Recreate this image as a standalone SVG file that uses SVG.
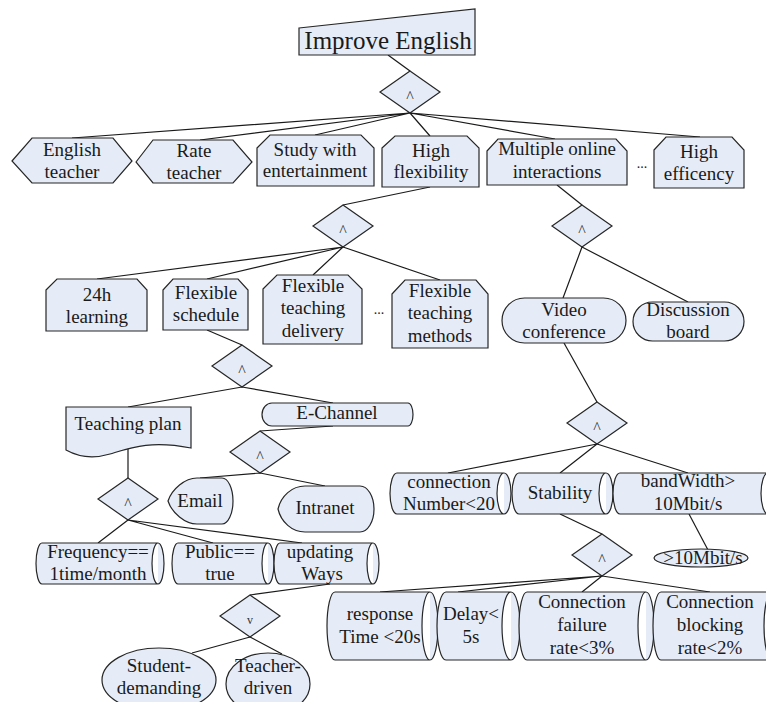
<svg xmlns="http://www.w3.org/2000/svg" width="766" height="702" viewBox="0 0 766 702">
<style>
.fnode{fill:#e5ecf7;stroke:#262626;stroke-width:1.2}
.fconn{fill:none;stroke:#1a1a1a;stroke-width:1.2}
</style>
<defs>
<path id="dia" d="M0,-21 L30,0 L0,21 L-30,0 Z"/>
</defs>
<rect width="766" height="702" fill="#fff"/>
<g id="connectors" class="fconn">
<path d="M388,55 L410,71"/>
<path d="M410,113 L72,138 M410,113 L200,140 M410,113 L315,135 M410,113 L430,136 M410,113 L555,139 M410,113 L700,137"/>
<path d="M430,187 L343,205"/>
<path d="M343,247 L97,279 M343,247 L207,279 M343,247 L313,275 M343,247 L440,280"/>
<path d="M557,185 L582,205"/>
<path d="M582,247 L563,298 M582,247 L688,302"/>
<path d="M564,343 L597,402"/>
<path d="M597,444 L448,473 M597,444 L560,473 M597,444 L688,473"/>
<path d="M689,514 L708,550"/>
<path d="M560,514 L602,534"/>
<path d="M602,576 L380,592 M602,576 L458,592 M602,576 L582,592 M602,576 L710,592"/>
<path d="M207,330 L242,345"/>
<path d="M242,387 L128,407 M242,387 L333,403"/>
<path d="M333,426 L260,431"/>
<path d="M260,473 L200,478 M260,473 L325,486"/>
<path d="M128,448 L128,478"/>
<path d="M128,520 L98,543 M128,520 L213,543 M128,520 L302,543"/>
<path d="M330,584 L250,595"/>
<path d="M250,637 L192,653 M250,637 L282,654"/>
</g>
<g id="improve-english"><path class="fnode" d="M299,28 L475,9 L475,55 L299,55 Z"/><text font-family="Liberation Serif" font-size="25" fill="#1a1a1a" text-anchor="middle" x="388" y="49">Improve English</text></g>
<g id="and1"><use href="#dia" class="fnode" x="410" y="92"/><text font-family="Liberation Serif" font-size="16" fill="#333" text-anchor="middle" x="410" y="102">^</text></g>
<g id="english-teacher"><polygon class="fnode" points="12,161 32,138 113,138 132,161 113,183 32,183"/><text font-family="Liberation Serif" font-size="19" fill="#1a1a1a" text-anchor="middle" x="72" y="156">English</text><text font-family="Liberation Serif" font-size="19" fill="#1a1a1a" text-anchor="middle" x="72" y="178">teacher</text></g>
<g id="rate-teacher"><polygon class="fnode" points="136,162 153,140 233,140 252,162 233,183 153,183"/><text font-family="Liberation Serif" font-size="19" fill="#1a1a1a" text-anchor="middle" x="194" y="157">Rate</text><text font-family="Liberation Serif" font-size="19" fill="#1a1a1a" text-anchor="middle" x="194" y="179">teacher</text></g>
<g id="study"><path class="fnode" d="M257,148 L270,135 L361,135 L374,148 L374,186 L257,186 Z"/><text font-family="Liberation Serif" font-size="19" fill="#1a1a1a" text-anchor="middle" x="315" y="156">Study with</text><text font-family="Liberation Serif" font-size="19" fill="#1a1a1a" text-anchor="middle" x="315" y="177">entertainment</text></g>
<g id="high-flexibility"><path class="fnode" d="M382,148 L395,136 L467,136 L479,148 L479,187 L382,187 Z"/><text font-family="Liberation Serif" font-size="19" fill="#1a1a1a" text-anchor="middle" x="431" y="157">High</text><text font-family="Liberation Serif" font-size="19" fill="#1a1a1a" text-anchor="middle" x="431" y="178">flexibility</text></g>
<g id="multiple"><path class="fnode" d="M487,151 L498,139 L616,139 L627,151 L627,185 L487,185 Z"/><text font-family="Liberation Serif" font-size="19" fill="#1a1a1a" text-anchor="middle" x="557" y="155">Multiple online</text><text font-family="Liberation Serif" font-size="19" fill="#1a1a1a" text-anchor="middle" x="557" y="178">interactions</text></g>
<text font-family="Liberation Serif" font-size="14" fill="#1a1a1a" text-anchor="middle" x="642" y="168">...</text>
<g id="high-efficency"><path class="fnode" d="M654,150 L666,137 L732,137 L744,150 L744,188 L654,188 Z"/><text font-family="Liberation Serif" font-size="19" fill="#1a1a1a" text-anchor="middle" x="699" y="158">High</text><text font-family="Liberation Serif" font-size="19" fill="#1a1a1a" text-anchor="middle" x="699" y="180">efficency</text></g>
<g id="and2"><use href="#dia" class="fnode" x="343" y="226"/><text font-family="Liberation Serif" font-size="16" fill="#333" text-anchor="middle" x="343" y="236">^</text></g>
<g id="and3"><use href="#dia" class="fnode" x="582" y="226"/><text font-family="Liberation Serif" font-size="16" fill="#333" text-anchor="middle" x="582" y="236">^</text></g>
<g id="learning24h"><path class="fnode" d="M46,290 L57,279 L137,279 L147,290 L147,331 L46,331 Z"/><text font-family="Liberation Serif" font-size="19" fill="#1a1a1a" text-anchor="middle" x="97" y="301">24h</text><text font-family="Liberation Serif" font-size="19" fill="#1a1a1a" text-anchor="middle" x="97" y="323">learning</text></g>
<g id="flexible-schedule"><path class="fnode" d="M163,290 L173,279 L238,279 L248,290 L248,330 L163,330 Z"/><text font-family="Liberation Serif" font-size="19" fill="#1a1a1a" text-anchor="middle" x="206" y="299">Flexible</text><text font-family="Liberation Serif" font-size="19" fill="#1a1a1a" text-anchor="middle" x="206" y="321">schedule</text></g>
<g id="flexible-delivery"><path class="fnode" d="M263,289 L277,275 L348,275 L362,289 L362,344 L263,344 Z"/><text font-family="Liberation Serif" font-size="19" fill="#1a1a1a" text-anchor="middle" x="313" y="292">Flexible</text><text font-family="Liberation Serif" font-size="19" fill="#1a1a1a" text-anchor="middle" x="313" y="314">teaching</text><text font-family="Liberation Serif" font-size="19" fill="#1a1a1a" text-anchor="middle" x="313" y="337">delivery</text></g>
<text font-family="Liberation Serif" font-size="14" fill="#1a1a1a" text-anchor="middle" x="379" y="314">...</text>
<g id="flexible-methods"><path class="fnode" d="M392,294 L405,280 L476,280 L488,294 L488,348 L392,348 Z"/><text font-family="Liberation Serif" font-size="19" fill="#1a1a1a" text-anchor="middle" x="440" y="297">Flexible</text><text font-family="Liberation Serif" font-size="19" fill="#1a1a1a" text-anchor="middle" x="440" y="319">teaching</text><text font-family="Liberation Serif" font-size="19" fill="#1a1a1a" text-anchor="middle" x="440" y="342">methods</text></g>
<g id="video-conference"><rect class="fnode" x="502" y="298" width="124" height="45" rx="22.5"/><text font-family="Liberation Serif" font-size="19" fill="#1a1a1a" text-anchor="middle" x="564" y="316">Video</text><text font-family="Liberation Serif" font-size="19" fill="#1a1a1a" text-anchor="middle" x="564" y="338">conference</text></g>
<g id="discussion-board"><rect class="fnode" x="633" y="302" width="111" height="39" rx="19.5"/><text font-family="Liberation Serif" font-size="19" fill="#1a1a1a" text-anchor="middle" x="688" y="316">Discussion</text><text font-family="Liberation Serif" font-size="19" fill="#1a1a1a" text-anchor="middle" x="688" y="338">board</text></g>
<g id="and4"><use href="#dia" class="fnode" x="597" y="423"/><text font-family="Liberation Serif" font-size="16" fill="#333" text-anchor="middle" x="597" y="433">^</text></g>
<g id="connection-number"><path class="fnode" d="M397,473 H504 A7,20.5 0 0 1 504,514 H397 A7,20.5 0 0 1 397,473 Z M504,473 A7,20.5 0 0 0 504,514"/><text font-family="Liberation Serif" font-size="19" fill="#1a1a1a" text-anchor="middle" x="449" y="488">connection</text><text font-family="Liberation Serif" font-size="19" fill="#1a1a1a" text-anchor="middle" x="449" y="510">Number&lt;20</text></g>
<g id="stability"><path class="fnode" d="M519,473 H606 A7,20.5 0 0 1 606,514 H519 A7,20.5 0 0 1 519,473 Z M606,473 A7,20.5 0 0 0 606,514"/><text font-family="Liberation Serif" font-size="19" fill="#1a1a1a" text-anchor="middle" x="560" y="499">Stability</text></g>
<g id="bandwidth"><path class="fnode" d="M620,473 H768 A7,20.5 0 0 1 768,514 H620 A7,20.5 0 0 1 620,473 Z M768,473 A7,20.5 0 0 0 768,514"/><text font-family="Liberation Serif" font-size="19" fill="#1a1a1a" text-anchor="middle" x="688" y="487">bandWidth&gt;</text><text font-family="Liberation Serif" font-size="19" fill="#1a1a1a" text-anchor="middle" x="688" y="510">10Mbit/s</text></g>
<g id="mbit"><ellipse class="fnode" cx="701" cy="558" rx="47" ry="9"/><text font-family="Liberation Serif" font-size="19" fill="#1a1a1a" text-anchor="middle" x="703" y="564">&gt;10Mbit/s</text></g>
<g id="and5"><use href="#dia" class="fnode" x="602" y="555"/><text font-family="Liberation Serif" font-size="16" fill="#333" text-anchor="middle" x="602" y="565">^</text></g>
<g id="response-time"><path class="fnode" d="M335,592 H430 A8,34 0 0 1 430,660 H335 A8,34 0 0 1 335,592 Z M430,592 A8,34 0 0 0 430,660"/><text font-family="Liberation Serif" font-size="19" fill="#1a1a1a" text-anchor="middle" x="380" y="620">response</text><text font-family="Liberation Serif" font-size="19" fill="#1a1a1a" text-anchor="middle" x="380" y="643">Time &lt;20s</text></g>
<g id="delay"><path class="fnode" d="M446,592 H511 A9,34 0 0 1 511,660 H446 A9,34 0 0 1 446,592 Z M511,592 A9,34 0 0 0 511,660"/><text font-family="Liberation Serif" font-size="19" fill="#1a1a1a" text-anchor="middle" x="471" y="620">Delay&lt;</text><text font-family="Liberation Serif" font-size="19" fill="#1a1a1a" text-anchor="middle" x="471" y="643">5s</text></g>
<g id="connection-failure"><path class="fnode" d="M527,592 H646 A8,34 0 0 1 646,660 H527 A8,34 0 0 1 527,592 Z M646,592 A8,34 0 0 0 646,660"/><text font-family="Liberation Serif" font-size="19" fill="#1a1a1a" text-anchor="middle" x="582" y="608">Connection</text><text font-family="Liberation Serif" font-size="19" fill="#1a1a1a" text-anchor="middle" x="582" y="631">failure</text><text font-family="Liberation Serif" font-size="19" fill="#1a1a1a" text-anchor="middle" x="582" y="654">rate&lt;3%</text></g>
<g id="connection-blocking"><path class="fnode" d="M661,592 H772 A8,34 0 0 1 772,660 H661 A8,34 0 0 1 661,592 Z M772,592 A8,34 0 0 0 772,660"/><text font-family="Liberation Serif" font-size="19" fill="#1a1a1a" text-anchor="middle" x="710" y="608">Connection</text><text font-family="Liberation Serif" font-size="19" fill="#1a1a1a" text-anchor="middle" x="710" y="631">blocking</text><text font-family="Liberation Serif" font-size="19" fill="#1a1a1a" text-anchor="middle" x="710" y="654">rate&lt;2%</text></g>
<g id="and6"><use href="#dia" class="fnode" x="242" y="366"/><text font-family="Liberation Serif" font-size="16" fill="#333" text-anchor="middle" x="242" y="376">^</text></g>
<g id="teaching-plan"><path class="fnode" d="M66,407 H191 V448 C150,440 130,448 110,454 C90,460 75,455 66,450 Z"/><text font-family="Liberation Serif" font-size="19" fill="#1a1a1a" text-anchor="middle" x="128" y="430">Teaching plan</text></g>
<g id="e-channel"><path class="fnode" d="M272,403 H408 A5,11.5 0 0 1 408,426 H272 A10,11.5 0 0 1 272,403 Z"/><text font-family="Liberation Serif" font-size="19" fill="#1a1a1a" text-anchor="middle" x="337" y="419">E-Channel</text></g>
<g id="and7"><use href="#dia" class="fnode" x="260" y="452"/><text font-family="Liberation Serif" font-size="16" fill="#333" text-anchor="middle" x="260" y="462">^</text></g>
<g id="email"><path class="fnode" d="M197,478 H222 A11,23 0 0 1 222,524 H197 C185,524 172,513 168,501 C172,489 185,478 197,478 Z"/><text font-family="Liberation Serif" font-size="19" fill="#1a1a1a" text-anchor="middle" x="200" y="507">Email</text></g>
<g id="intranet"><path class="fnode" d="M305,486 H360 A14,23 0 0 1 360,532 H305 C292,532 281,522 278,509 C281,496 292,486 305,486 Z"/><text font-family="Liberation Serif" font-size="19" fill="#1a1a1a" text-anchor="middle" x="325" y="514">Intranet</text></g>
<g id="and8"><use href="#dia" class="fnode" x="128" y="499"/><text font-family="Liberation Serif" font-size="16" fill="#333" text-anchor="middle" x="128" y="509">^</text></g>
<g id="frequency"><path class="fnode" d="M42,543 H158 A6,20.5 0 0 1 158,584 H42 A6,20.5 0 0 1 42,543 Z M158,543 A6,20.5 0 0 0 158,584"/><text font-family="Liberation Serif" font-size="19" fill="#1a1a1a" text-anchor="middle" x="98" y="558">Frequency==</text><text font-family="Liberation Serif" font-size="19" fill="#1a1a1a" text-anchor="middle" x="98" y="580">1time/month</text></g>
<g id="public"><path class="fnode" d="M178,543 H268 A6,20.5 0 0 1 268,584 H178 A6,20.5 0 0 1 178,543 Z M268,543 A6,20.5 0 0 0 268,584"/><text font-family="Liberation Serif" font-size="19" fill="#1a1a1a" text-anchor="middle" x="220" y="558">Public==</text><text font-family="Liberation Serif" font-size="19" fill="#1a1a1a" text-anchor="middle" x="220" y="580">true</text></g>
<g id="updating-ways"><path class="fnode" d="M280,543 H373 A6,20.5 0 0 1 373,584 H280 A6,20.5 0 0 1 280,543 Z M373,543 A6,20.5 0 0 0 373,584"/><text font-family="Liberation Serif" font-size="19" fill="#1a1a1a" text-anchor="middle" x="320" y="558">updating</text><text font-family="Liberation Serif" font-size="19" fill="#1a1a1a" text-anchor="middle" x="322" y="580">Ways</text></g>
<g id="or9"><use href="#dia" class="fnode" x="250" y="616"/><text font-family="Liberation Serif" font-size="12" fill="#333" text-anchor="middle" x="250" y="624">v</text></g>
<g id="student-demanding"><ellipse class="fnode" cx="159" cy="680" rx="57" ry="32"/><text font-family="Liberation Serif" font-size="19" fill="#1a1a1a" text-anchor="middle" x="159" y="672">Student-</text><text font-family="Liberation Serif" font-size="19" fill="#1a1a1a" text-anchor="middle" x="159" y="694">demanding</text></g>
<g id="teacher-driven"><ellipse class="fnode" cx="268" cy="684" rx="42" ry="31"/><text font-family="Liberation Serif" font-size="19" fill="#1a1a1a" text-anchor="middle" x="268" y="672">Teacher-</text><text font-family="Liberation Serif" font-size="19" fill="#1a1a1a" text-anchor="middle" x="268" y="694">driven</text></g>
</svg>
